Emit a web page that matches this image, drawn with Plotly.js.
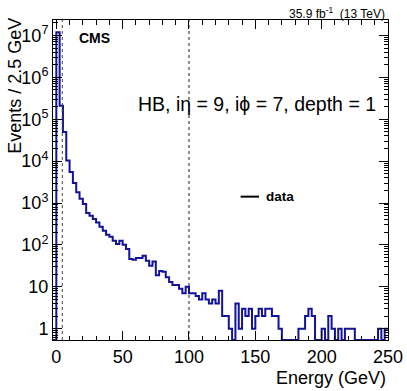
<!DOCTYPE html>
<html>
<head>
<meta charset="utf-8">
<script src="https://cdn.plot.ly/plotly-3.0.1.min.js"></script>
<style>
	html, body { margin: 0; padding: 0; background: #fff; }
	#plot { width: 407px; height: 391px; }
</style>
</head>
<body>
<div id="plot"></div>
<script>
(function(){

	'use strict';

	/**
	* Histogram binning (GeV)
	* first bin starts at -2.5, every bin is 2.5 GeV wide
	*/
	const binStart = -2.5;
	const binWidth = 2.5;

	// events per bin (0 = empty bin)
	const counts = [
		0, 1.2e7, 2.1e5, 5.0e4, 1.03e4, 5.5e3, 3.0e3, 1.8e3, 1.26e3, 950,
		580, 500, 415, 345, 272, 218, 175, 156, 126, 105,
		126, 101, 80, 46, 44, 49, 49, 55, 42, 32,
		40, 19, 24, 23, 17, 13, 11, 11, 9, 7,
		10, 7, 7, 6, 5, 7, 5, 4, 5, 4,
		8, 2, 2, 1, 0, 4, 1, 3, 2, 3,
		1, 2, 3, 2, 3, 3, 2, 2, 1, 0,
		0, 0, 0, 0, 1, 1, 2, 3, 2, 0,
		0, 1, 0, 2, 1, 0, 1, 0, 1, 1,
		1, 0, 0, 0, 0, 0, 0, 0, 1, 0,
		1
	];

	// dashed reference lines (GeV)
	const cutLines = [4.5, 100];

	// y axis: log range (decades) and labels
	const yRange = [-0.27, 7.37];
	const yTickVals = [1, 10, 1e2, 1e3, 1e4, 1e5, 1e6, 1e7];
	const yTickText = ['1', '10', '10<sup>2</sup>', '10<sup>3</sup>', '10<sup>4</sup>',
		'10<sup>5</sup>', '10<sup>6</sup>', '10<sup>7</sup>'];

	const font = '"Liberation Sans", Arial, Helvetica, sans-serif';
	const histColor = '#12129a';

	/*
	Step line: one point per bin low edge, plus the last high edge.
	Empty bins sit on the frame bottom, like ROOT does on a log pad.
	*/
	const yFloor = Math.pow( 10, yRange[0] );
	const xs = counts.map(( c, i ) => binStart + i * binWidth );
	xs.push( binStart + counts.length * binWidth );
	const ys = counts.map( c => c > 0 ? c : yFloor );
	ys.push( ys[ ys.length - 1 ] );

	const hist = {
		x: xs,
		y: ys,
		type: 'scatter',
		mode: 'lines',
		line: { shape: 'hv', color: histColor, width: 2 },
		hoverinfo: 'skip',
		showlegend: false,
	};

	const axisCommon = {
		showline: true,
		linecolor: '#000',
		linewidth: 1,
		mirror: 'allticks',
		ticks: 'inside',
		ticklen: 9,
		tickwidth: 1,
		tickcolor: '#000',
		showgrid: false,
		zeroline: false,
		tickfont: { family: font, size: 18, color: '#000' },
	};

	const shapes = cutLines.map( x => ({
		type: 'line', xref: 'x', yref: 'paper',
		x0: x, x1: x, y0: 0, y1: 1,
		line: { color: x < 50 ? '#444' : '#222', width: 1, dash: '3px,3px' },
	}));

	// legend entry (black line + "data")
	shapes.push({
		type: 'line', xref: 'paper', yref: 'paper',
		x0: 0.56, x1: 0.615, y0: 0.448, y1: 0.448,
		line: { color: '#000', width: 2 },
	});

	const annotations = [
		{ text: 'CMS', x: 0.072, y: 0.944, xanchor: 'left', yanchor: 'middle',
			font: { family: font, size: 14, color: '#000', weight: 'bold' } },
		{ text: 'HB, i\u03b7 = 9, i\u03d5 = 7, depth = 1', x: 0.97, y: 0.738,
			xanchor: 'right', yanchor: 'middle',
			font: { family: font, size: 19.5, color: '#000' } },
		{ text: 'data', x: 0.63, y: 0.448, xanchor: 'left', yanchor: 'middle',
			font: { family: font, size: 13.5, color: '#000', weight: 'bold' } },
		{ text: '35.9 fb<sup>-1</sup>  (13 TeV)', x: 0.998, y: 1.022,
			xanchor: 'right', yanchor: 'middle',
			font: { family: font, size: 12, color: '#000' } },
		// axis titles, ROOT style: aligned to the axis end
		{ text: 'Energy (GeV)', x: 1.0, y: -0.119, xanchor: 'right', yanchor: 'middle',
			font: { family: font, size: 18, color: '#000' } },
		{ text: 'Events / 2.5 GeV', x: -0.116, y: 0.795, xanchor: 'center', yanchor: 'middle',
			textangle: -90, font: { family: font, size: 18, color: '#000' } },
	].map( a => Object.assign({ xref: 'paper', yref: 'paper', showarrow: false }, a ));

	const layout = {
		width: 407,
		height: 391,
		margin: { l: 53, r: 19, t: 20, b: 51 },
		paper_bgcolor: '#fff',
		plot_bgcolor: '#fff',
		showlegend: false,
		xaxis: Object.assign({}, axisCommon, {
			range: [ binStart, 250 ],
			tickmode: 'linear',
			tick0: 0,
			dtick: 50,
			minor: { ticks: 'inside', ticklen: 4.5, tickcolor: '#000', dtick: 10, tick0: 0 },
		}),
		yaxis: Object.assign({}, axisCommon, {
			type: 'log',
			range: yRange,
			tickmode: 'array',
			tickvals: yTickVals,
			ticktext: yTickText,
			minor: { ticks: 'inside', ticklen: 4.5, tickcolor: '#000', dtick: 'D1' },
		}),
		shapes,
		annotations,
	};

	Plotly.newPlot('plot', [ hist ], layout, { displayModeBar: false, staticPlot: true });

})();
</script>
</body>
</html>
